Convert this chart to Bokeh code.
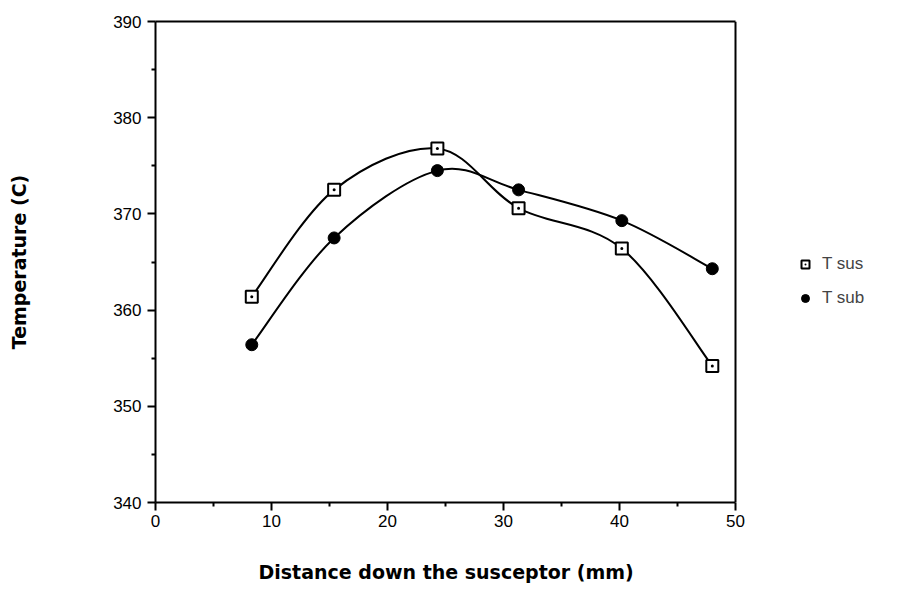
from bokeh.plotting import figure
from bokeh.models import (Range1d, Legend, LegendItem, FixedTicker, ColumnDataSource,
                          LinearAxis, Span, Title)
from bokeh.embed import file_html
from bokeh.resources import INLINE

# data
distance = [8.3, 15.4, 24.3, 31.3, 40.2, 48.0]
t_sus = [361.4, 372.5, 376.8, 370.6, 366.4, 354.2]
t_sub = [356.4, 367.5, 374.5, 372.5, 369.3, 364.3]
x_ticks = [0, 10, 20, 30, 40, 50]
y_ticks = [340, 350, 360, 370, 380, 390]
x_min, x_max = 0, 50
y_min, y_max = 340, 390

FONT = "Liberation Sans"
LEFT, RIGHT_BOX, W = 155, 735, 906
# frame extends to the right edge so the legend can sit beside the plot box
x_end = x_max * (W - LEFT) / (RIGHT_BOX - LEFT)

p = figure(width=W, height=612, output_backend="svg", toolbar_location=None,
           x_range=Range1d(x_min, x_end), y_range=Range1d(y_min, y_max),
           min_border_left=LEFT, min_border_right=0, min_border_top=21, min_border_bottom=110)
p.background_fill_color = "white"
p.border_fill_color = "white"
p.outline_line_color = None
p.grid.visible = False


def bezier_source(xs, ys):
    n = len(xs)
    d = dict(x0=[], y0=[], x1=[], y1=[], cx0=[], cy0=[], cx1=[], cy1=[])
    for i in range(n - 1):
        a = max(i - 1, 0)
        b = min(i + 2, n - 1)
        d["x0"].append(xs[i]); d["y0"].append(ys[i])
        d["x1"].append(xs[i + 1]); d["y1"].append(ys[i + 1])
        d["cx0"].append(xs[i] + (xs[i + 1] - xs[a]) / 6)
        d["cy0"].append(ys[i] + (ys[i + 1] - ys[a]) / 6)
        d["cx1"].append(xs[i + 1] - (xs[b] - xs[i]) / 6)
        d["cy1"].append(ys[i + 1] - (ys[b] - ys[i]) / 6)
    return ColumnDataSource(d)


for ys in (t_sus, t_sub):
    p.bezier(x0="x0", y0="y0", x1="x1", y1="y1", cx0="cx0", cy0="cy0", cx1="cx1", cy1="cy1",
             source=bezier_source(distance, ys), line_color="black", line_width=2)

r_sus = p.scatter(distance, t_sus, marker="square_dot", size=12, fill_color="white",
                  line_color="black", line_width=2)
r_sub = p.scatter(distance, t_sub, marker="circle", size=12, fill_color="black",
                  line_color="black")

for ax in (p.xaxis[0], p.yaxis[0]):
    ax.axis_line_width = 2
    ax.major_tick_line_width = 2
    ax.minor_tick_line_width = 2
    ax.major_tick_out = 8
    ax.major_tick_in = 0
    ax.minor_tick_out = 4
    ax.minor_tick_in = 0
    ax.major_label_text_font = FONT
    ax.major_label_text_font_size = "17px"
    ax.major_label_text_color = "black"
    ax.axis_label_text_font = "DejaVu Sans"
    ax.axis_label_text_font_style = "bold"
    ax.axis_label_text_font_size = "19px"
    ax.axis_label_text_color = "black"

p.xaxis.bounds = (x_min, x_max)
p.xaxis.ticker = FixedTicker(ticks=x_ticks, minor_ticks=[5, 15, 25, 35, 45])
p.yaxis.ticker = FixedTicker(ticks=y_ticks, minor_ticks=[345, 355, 365, 375, 385])
p.yaxis.axis_label = "Temperature (C)"
p.xaxis.major_label_standoff = 4
p.yaxis.major_label_standoff = 6
p.yaxis.axis_label_standoff = 80

# x-axis title, centred under the plot box rather than the whole frame
xtitle = Title(text="Distance down the susceptor (mm)", align="left", offset=103,
               text_font="DejaVu Sans", text_font_style="bold", text_font_size="19px",
               text_color="black", standoff=58)
p.add_layout(xtitle, "below")

# top edge of the plot box
top = LinearAxis(bounds=(x_min, x_max), ticker=FixedTicker(ticks=[]), axis_line_width=2,
                 major_tick_line_color=None, minor_tick_line_color=None,
                 major_label_text_font_size="0px")
p.add_layout(top, "above")
# right edge of the plot box
p.add_layout(Span(location=x_max, dimension="height", line_color="black", line_width=2))

legend = Legend(items=[LegendItem(label="T sus", renderers=[r_sus]),
                       LegendItem(label="T sub", renderers=[r_sub])],
                location=(638, 194), border_line_color=None, background_fill_alpha=0,
                label_text_font=FONT, label_text_font_size="17px", spacing=14,
                padding=0, margin=0, glyph_width=24, label_standoff=5)
p.add_layout(legend, "center")

open("out.html", "w").write(file_html(p, INLINE))
